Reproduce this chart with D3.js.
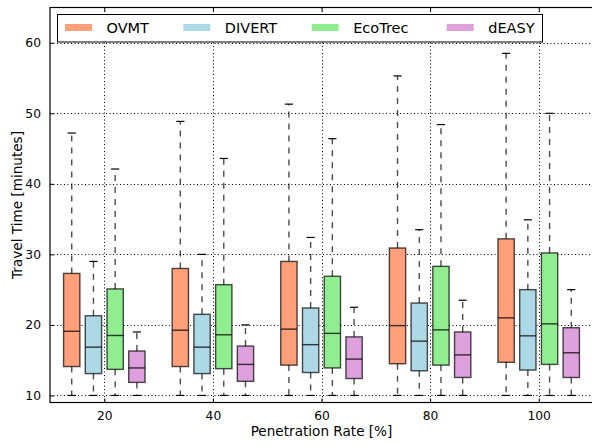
<!DOCTYPE html>
<html>
<head>
<meta charset="utf-8">
<script src="https://cdn.jsdelivr.net/npm/d3@7"></script>
<style>
  html, body { margin: 0; padding: 0; background: #fff; }
  svg text { font-family: "DejaVu Sans", sans-serif; fill: #000; }
</style>
</head>
<body>
<svg id="chart" width="592" height="445"></svg>
<script>
// ---- data ----
const categories = [20, 40, 60, 80, 100];
const seriesNames = ["OVMT", "DIVERT", "EcoTrec", "dEASY"];
const seriesColors = ["#FFA07A", "#ADD8E6", "#90EE90", "#DDA0DD"];
// each entry: [min, q1, median, q3, max]
const ovmt    = [[10, 14.1, 19.1, 27.3, 47.2], [10, 14.1, 19.25, 28.0, 48.85], [10, 14.3, 19.4, 29.0, 51.3], [10, 14.5, 19.9, 30.9, 55.3], [10, 14.7, 21.0, 32.2, 58.5]];
const divert  = [[10, 13.1, 16.85, 21.3, 29.0], [10, 13.1, 16.85, 21.5, 30.0], [10, 13.25, 17.2, 22.4, 32.4], [10, 13.5, 17.7, 23.1, 33.5], [10, 13.6, 18.45, 25.0, 34.9]];
const ecotrec = [[10, 13.7, 18.5, 25.1, 42.1], [10, 13.8, 18.6, 25.7, 43.6], [10, 13.9, 18.8, 26.9, 46.4], [10, 14.3, 19.3, 28.3, 48.4], [10, 14.4, 20.15, 30.2, 50.0]];
const deasy   = [[10, 11.85, 13.9, 16.3, 19.0], [10, 12.0, 14.4, 17.0, 20.0], [10, 12.4, 15.15, 18.3, 22.5], [10, 12.55, 15.75, 19.0, 23.5], [10, 12.55, 16.05, 19.6, 25.0]];
const seriesData = [ovmt, divert, ecotrec, deasy];
const yTicks = [10, 20, 30, 40, 50, 60];
const xLabel = "Penetration Rate [%]";
const yLabel = "Travel Time [minutes]";

// ---- layout ----
const svg = d3.select("#chart");
const L = 50, R = 593, T = 7.5, B = 402.5;
const x = d3.scaleLinear().domain([10, 110]).range([L, R]);
const y = d3.scaleLinear().domain([9, 65]).range([B, T]);
const offsets = [-6, -2, 2, 6];
const boxW = 3;

const g = svg.append("g");

// grid
g.append("g").selectAll("line").data(categories).join("line")
  .attr("x1", d => Math.round(x(d)) + 0.5).attr("x2", d => Math.round(x(d)) + 0.5)
  .attr("y1", T).attr("y2", B)
  .attr("stroke", "#000").attr("stroke-width", 1).attr("stroke-dasharray", "1,2.5");
g.append("g").selectAll("line").data(yTicks).join("line")
  .attr("x1", L).attr("x2", R)
  .attr("y1", d => Math.round(y(d)) + 0.5).attr("y2", d => Math.round(y(d)) + 0.5)
  .attr("stroke", "#000").attr("stroke-width", 1).attr("stroke-dasharray", "1,2.5");

// boxes
seriesData.forEach((ser, si) => {
  const sg = g.append("g");
  ser.forEach((v, ci) => {
    const cx = categories[ci] + offsets[si];
    const [mn, q1, md, q3, mx] = v;
    const xl = x(cx - boxW / 2), xr = x(cx + boxW / 2), xc = x(cx);
    const capL = x(cx - boxW / 4), capR = x(cx + boxW / 4);
    // whiskers
    sg.append("line").attr("x1", xc).attr("x2", xc).attr("y1", y(q3)).attr("y2", y(mx))
      .attr("stroke", "#000").attr("stroke-opacity", 0.7).attr("stroke-width", 1.4).attr("stroke-dasharray", "6,6");
    sg.append("line").attr("x1", xc).attr("x2", xc).attr("y1", y(q1)).attr("y2", y(mn))
      .attr("stroke", "#000").attr("stroke-opacity", 0.7).attr("stroke-width", 1.4).attr("stroke-dasharray", "6,6");
    // caps
    sg.append("line").attr("x1", capL).attr("x2", capR).attr("y1", y(mx)).attr("y2", y(mx))
      .attr("stroke", "#000").attr("stroke-width", 1.2);
    sg.append("line").attr("x1", capL).attr("x2", capR).attr("y1", y(mn)).attr("y2", y(mn))
      .attr("stroke", "#000").attr("stroke-width", 1.2);
    // box
    sg.append("rect").attr("x", xl).attr("y", y(q3)).attr("width", xr - xl).attr("height", y(q1) - y(q3))
      .attr("fill", seriesColors[si]).attr("stroke", "#000").attr("stroke-opacity", 0.7).attr("stroke-width", 1.4);
    // median
    sg.append("line").attr("x1", xl).attr("x2", xr).attr("y1", y(md)).attr("y2", y(md))
      .attr("stroke", "#000").attr("stroke-opacity", 0.75).attr("stroke-width", 1.4);
  });
});

// axes (ticks inward)
const xAxisB = d3.axisBottom(x).tickValues(categories).tickSizeInner(-4).tickSizeOuter(0).tickPadding(9);
const xAxisT = d3.axisTop(x).tickValues(categories).tickSizeInner(-4).tickSizeOuter(0).tickFormat("");
const yAxisL = d3.axisLeft(y).tickValues(yTicks).tickSizeInner(-4).tickSizeOuter(0).tickPadding(9);
const gxb = svg.append("g").attr("transform", `translate(0,${B})`).call(xAxisB);
const gxt = svg.append("g").attr("transform", `translate(0,${T})`).call(xAxisT);
const gyl = svg.append("g").attr("transform", `translate(${L},0)`).call(yAxisL);
[gxb, gxt, gyl].forEach(a => {
  a.select(".domain").remove();
  a.selectAll("line").attr("stroke", "#000");
  a.selectAll("text").style("font-family", "DejaVu Sans").style("font-size", "12.3px").attr("fill", "#000");
});

// frame
svg.append("rect").attr("x", L).attr("y", T).attr("width", R - L).attr("height", B - T)
  .attr("fill", "none").attr("stroke", "#000").attr("stroke-width", 1.2);

// axis labels
svg.append("text").attr("x", 321.5).attr("y", 435.5).attr("text-anchor", "middle")
  .style("font-size", "13.6px").text(xLabel);
svg.append("text").attr("transform", `translate(22,${(T + B) / 2}) rotate(-90)`).attr("text-anchor", "middle")
  .style("font-size", "13.6px").text(yLabel);

// legend
const lg = svg.append("g");
lg.append("rect").attr("x", 57.5).attr("y", 14.5).attr("width", 485).attr("height", 27.5)
  .attr("fill", "#fff").attr("stroke", "#000").attr("stroke-width", 1);
const legX = [65, 183.3, 311.7, 446.7];
seriesNames.forEach((n, i) => {
  lg.append("rect").attr("x", legX[i]).attr("y", 24).attr("width", 27).attr("height", 7)
    .attr("fill", seriesColors[i]);
  lg.append("text").attr("x", legX[i] + 41.5).attr("y", 32.5).style("font-size", "14.5px").text(n);
});
</script>
</body>
</html>
